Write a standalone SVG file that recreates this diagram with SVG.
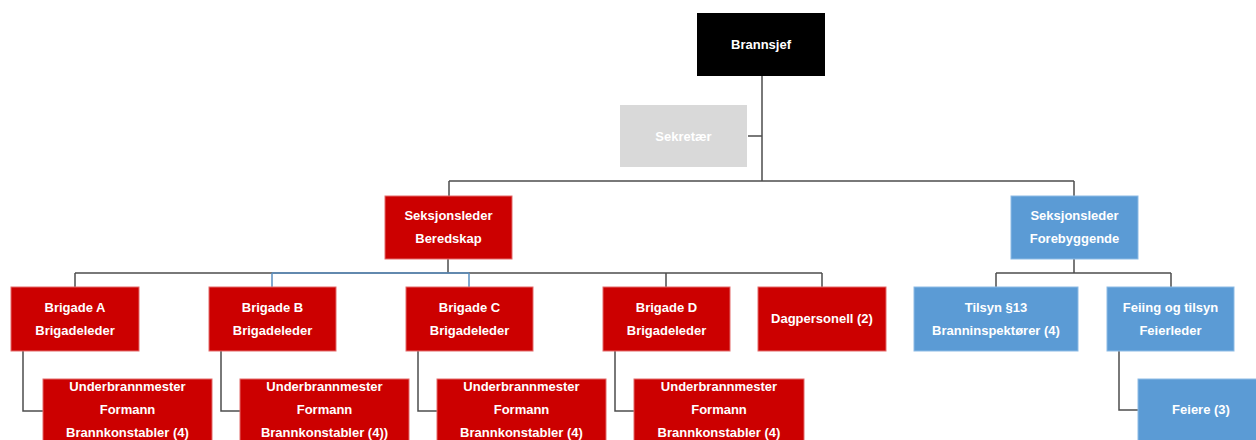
<svg xmlns="http://www.w3.org/2000/svg" width="1256" height="440" viewBox="0 0 1256 440">
<style>
.t{font-family:"Liberation Sans",Arial,sans-serif;font-weight:bold;font-size:13px;fill:#fff;text-anchor:middle;dominant-baseline:central}
.red{fill:#cc0000;stroke:#e36b6b;stroke-width:1}
.blue{fill:#5b9bd5;stroke:#8dbbe5;stroke-width:1}
.c{fill:none;stroke:#4d4d4d;stroke-width:1.5}
.cb{fill:none;stroke:#5b8fc0;stroke-width:1.5}
</style>
<rect width="1256" height="440" fill="#fff"/>
<g id="connectors">
<path class="c" d="M762 76V181M748 136H762M449 181H1074M449 181V196M1074 181V196"/>
<path class="c" d="M448 259V273M75 273H822M75 273V287M666 273V287M822 273V287"/>
<path class="cb" d="M272 273H469M272 273V287M469 273V287"/>
<path class="c" d="M1074 259V273M996 273H1171M996 273V287M1171 273V287"/>
<path class="c" d="M1119 351V410H1138"/>
<path class="c" d="M23 351V411H43M221 351V411H240M418 351V411H437M615 351V411H634"/>
</g>
<g id="brannsjef"><rect x="697" y="13" width="128" height="63" fill="#000"/><text class="t" x="761" y="44">Brannsjef</text></g>
<g id="sekretaer"><rect x="620" y="105" width="127" height="62" fill="#d9d9d9"/><text class="t" x="683.5" y="136">Sekretær</text></g>
<g id="beredskap"><rect class="red" x="385" y="196" width="127" height="63"/><text class="t" x="448.5" y="215">Seksjonsleder</text><text class="t" x="448.5" y="238">Beredskap</text></g>
<g id="forebyggende"><rect class="blue" x="1011" y="196" width="127" height="63"/><text class="t" x="1074.5" y="215">Seksjonsleder</text><text class="t" x="1074.5" y="238">Forebyggende</text></g>
<g id="brigadeA"><rect class="red" x="11" y="287" width="128" height="64"/><text class="t" x="75" y="307">Brigade A</text><text class="t" x="75" y="330">Brigadeleder</text></g>
<g id="brigadeB"><rect class="red" x="209" y="287" width="127" height="64"/><text class="t" x="272.5" y="307">Brigade B</text><text class="t" x="272.5" y="330">Brigadeleder</text></g>
<g id="brigadeC"><rect class="red" x="406" y="287" width="127" height="64"/><text class="t" x="469.5" y="307">Brigade C</text><text class="t" x="469.5" y="330">Brigadeleder</text></g>
<g id="brigadeD"><rect class="red" x="603" y="287" width="127" height="64"/><text class="t" x="666.5" y="307">Brigade D</text><text class="t" x="666.5" y="330">Brigadeleder</text></g>
<g id="dagpersonell"><rect class="red" x="758" y="287" width="128" height="64"/><text class="t" x="822" y="318">Dagpersonell (2)</text></g>
<g id="tilsyn"><rect class="blue" x="914" y="287" width="164" height="64"/><text class="t" x="996" y="307">Tilsyn §13</text><text class="t" x="996" y="330">Branninspektører (4)</text></g>
<g id="feiing"><rect class="blue" x="1107" y="287" width="127" height="64"/><text class="t" x="1170.5" y="307">Feiing og tilsyn</text><text class="t" x="1170.5" y="330">Feierleder</text></g>
<g id="feiere"><rect class="blue" x="1138" y="379" width="127" height="70"/><text class="t" x="1201" y="409">Feiere (3)</text></g>
<g id="underA"><rect class="red" x="43" y="379" width="169" height="70"/><text class="t" x="127.5" y="386">Underbrannmester</text><text class="t" x="127.5" y="409">Formann</text><text class="t" x="127.5" y="432">Brannkonstabler (4)</text></g>
<g id="underB"><rect class="red" x="240" y="379" width="169" height="70"/><text class="t" x="324.5" y="386">Underbrannmester</text><text class="t" x="324.5" y="409">Formann</text><text class="t" x="324.5" y="432">Brannkonstabler (4))</text></g>
<g id="underC"><rect class="red" x="437" y="379" width="169" height="70"/><text class="t" x="521.5" y="386">Underbrannmester</text><text class="t" x="521.5" y="409">Formann</text><text class="t" x="521.5" y="432">Brannkonstabler (4)</text></g>
<g id="underD"><rect class="red" x="634" y="379" width="170" height="70"/><text class="t" x="719" y="386">Underbrannmester</text><text class="t" x="719" y="409">Formann</text><text class="t" x="719" y="432">Brannkonstabler (4)</text></g>
</svg>
